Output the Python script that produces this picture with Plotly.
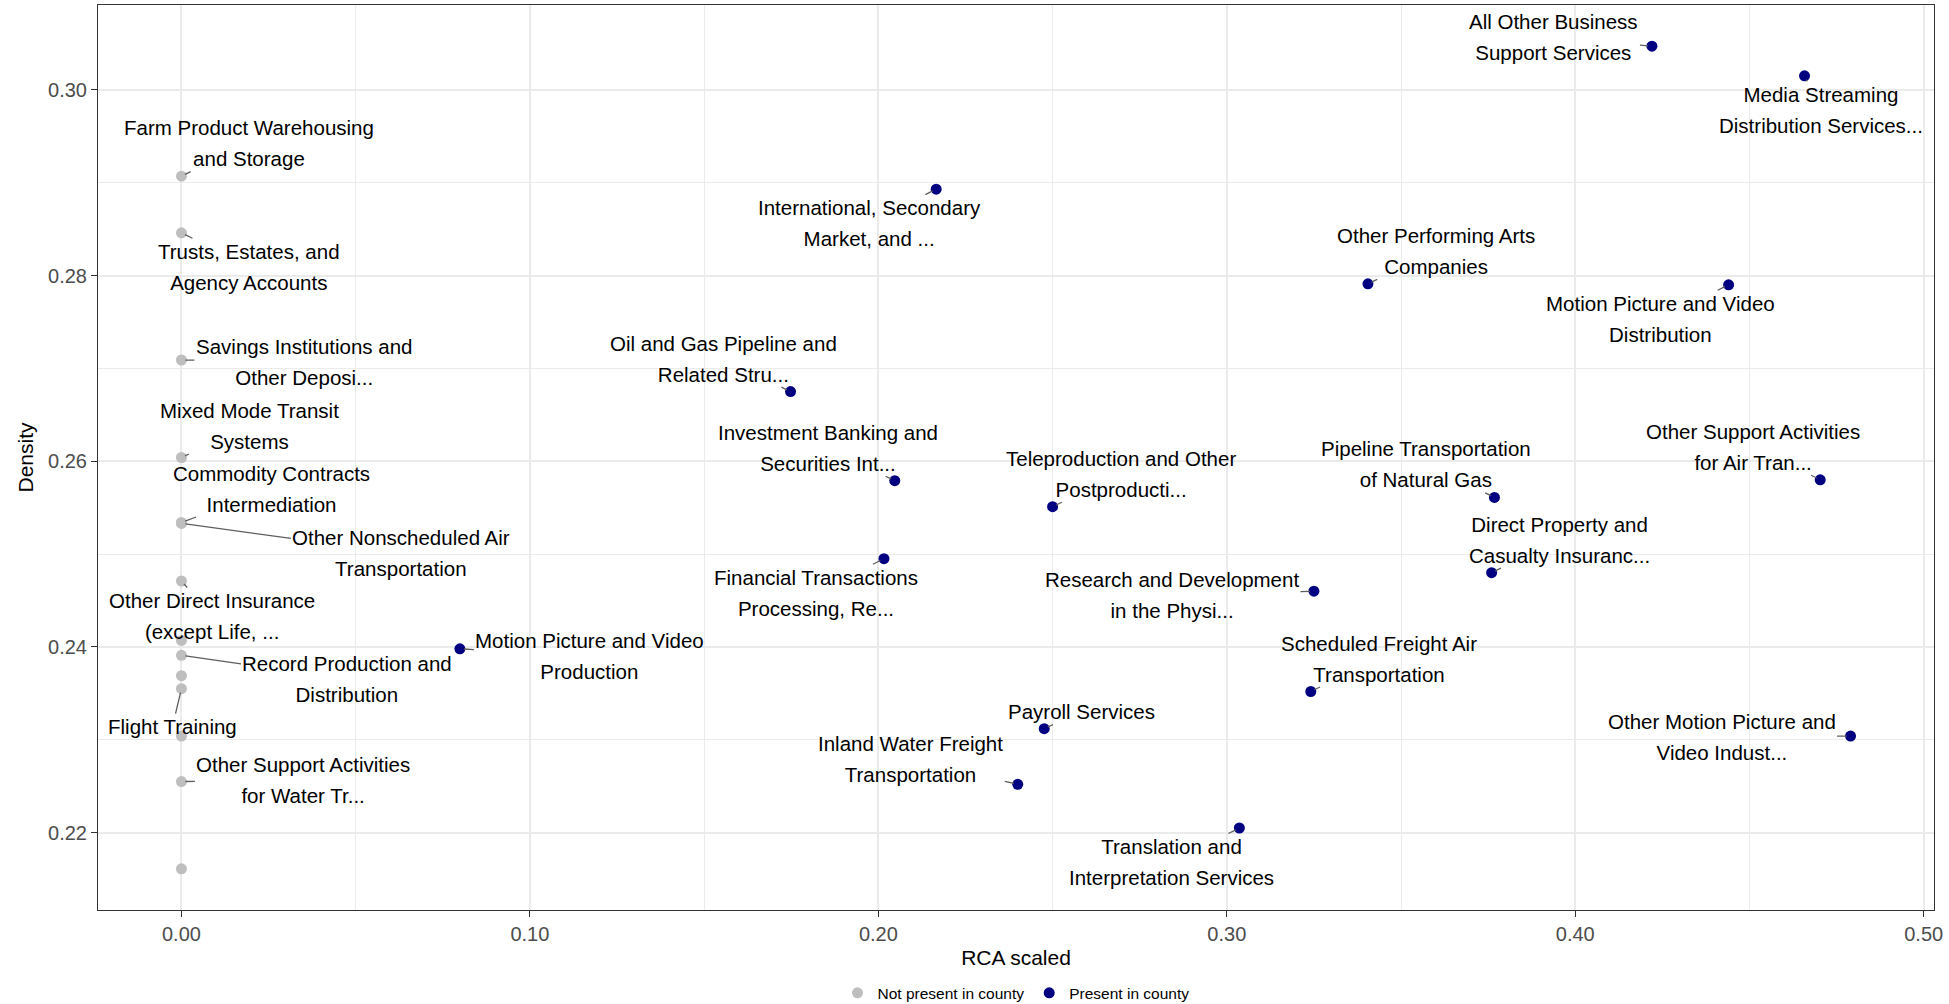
import plotly.graph_objects as go

# industries not present in the county (all at RCA = 0)
absent_names = [
    "Farm Product Warehousing\nand Storage",
    "Trusts, Estates, and\nAgency Accounts",
    "Savings Institutions and\nOther Deposi...",
    "Mixed Mode Transit\nSystems",
    "Commodity Contracts\nIntermediation",
    "Other Nonscheduled Air\nTransportation",
    "Other Direct Insurance\n(except Life, ...",
    "",
    "Record Production and\nDistribution",
    "",
    "Flight Training",
    "",
    "Other Support Activities\nfor Water Tr...",
    "",
]
absent_rca = [0.0] * 14
absent_density = [0.2907, 0.2846, 0.2709, 0.2604, 0.2534, 0.2533, 0.2471,
                  0.2407, 0.2391, 0.2369, 0.2355, 0.2304, 0.2255, 0.2161]

# industries present in the county
present_names = [
    "International, Secondary\nMarket, and ...",
    "Oil and Gas Pipeline and\nRelated Stru...",
    "Investment Banking and\nSecurities Int...",
    "Teleproduction and Other\nPostproducti...",
    "Financial Transactions\nProcessing, Re...",
    "Payroll Services",
    "Inland Water Freight\nTransportation",
    "Research and Development\nin the Physi...",
    "Scheduled Freight Air\nTransportation",
    "Translation and\nInterpretation Services",
    "Other Performing Arts\nCompanies",
    "Motion Picture and Video\nDistribution",
    "Pipeline Transportation\nof Natural Gas",
    "Direct Property and\nCasualty Insuranc...",
    "All Other Business\nSupport Services",
    "Media Streaming\nDistribution Services...",
    "Other Support Activities\nfor Air Tran...",
    "Other Motion Picture and\nVideo Indust...",
    "Motion Picture and Video\nProduction",
]
present_rca = [0.2166, 0.1748, 0.2047, 0.2500, 0.2016, 0.2476, 0.2400, 0.3250,
               0.3241, 0.3036, 0.3405, 0.4440, 0.3768, 0.3760, 0.4220, 0.4658,
               0.4703, 0.4790, 0.0799]
present_density = [0.2893, 0.2675, 0.2579, 0.2551, 0.2495, 0.2312, 0.2252, 0.2460,
                   0.2352, 0.2205, 0.2791, 0.2790, 0.2561, 0.2480, 0.3047, 0.3015,
                   0.2580, 0.2304, 0.2398]

# label placement (pixel offsets of the label centre from its point, like ggrepel)
absent_offsets = [(68, -33), (68, 34), (123, 2), (68, -32), (90, -34), (220, 30),
                  (31, 35), None, (166, 24), None, (-9, 38), None, (122, -2), None]
present_offsets = [(-67, 34), (-67, -33), (-67, -33), (68, -33), (-68, 34), (37, -17),
                   (-107, -25), (-142, 4), (68, -33), (-68, 34), (68, -33), (-68, 34),
                   (-68, -33), (68, -33), (-98, -9), (16, 34), (-67, -33), (-129, 1),
                   (130, 7)]

FONT = "Liberation Sans, Arial, sans-serif"
GREY = "#BEBEBE"
NAVY = "#000080"
LABEL_SIZE = 20.5
LINE_GAP_SIZE = 23.6  # outer font size only sets the spacing between label lines

fig = go.Figure()
fig.add_trace(go.Scatter(x=absent_rca, y=absent_density, mode="markers",
                         name="Not present in county",
                         marker=dict(color=GREY, size=11)))
fig.add_trace(go.Scatter(x=present_rca, y=present_density, mode="markers",
                         name="Present in county",
                         marker=dict(color=NAVY, size=11)))


def add_labels(names, xs, ys, offsets):
    for name, x, y, off in zip(names, xs, ys, offsets):
        if not name:
            continue
        lines = ["<span style='font-size:%spx'>%s</span>" % (LABEL_SIZE, s)
                 for s in name.split("\n")]
        fig.add_annotation(x=x, y=y, text="<br>".join(lines),
                           showarrow=True, ax=off[0], ay=off[1],
                           arrowhead=0, arrowwidth=1.3, arrowcolor="#5E5E5E",
                           standoff=4,
                           font=dict(family=FONT, size=LINE_GAP_SIZE, color="black"))


add_labels(absent_names, absent_rca, absent_density, absent_offsets)
add_labels(present_names, present_rca, present_density, present_offsets)

# ggplot-style 5% expansion of the data range
all_x = absent_rca + present_rca
all_y = absent_density + present_density
xpad = (max(all_x) - min(all_x)) * 0.05
ypad = (max(all_y) - min(all_y)) * 0.05

axis_style = dict(
    showline=True, linecolor="#333333", linewidth=1, mirror=True,
    ticks="outside", ticklen=6, tickwidth=1, tickcolor="#333333",
    tickfont=dict(family=FONT, size=20, color="#4D4D4D"),
    showgrid=True, gridcolor="#EBEBEB", gridwidth=1.6, zeroline=False,
    tickformat=".2f", automargin=False,
)

fig.update_layout(
    width=1949, height=1004,
    margin=dict(l=98, r=15, t=5, b=94, autoexpand=False),
    plot_bgcolor="white", paper_bgcolor="white",
    font=dict(family=FONT, color="black"),
    showlegend=True,
    legend=dict(orientation="h", x=0.5, xanchor="center", y=-0.092, yanchor="middle",
                itemwidth=30,
                font=dict(family=FONT, size=15.5, color="black")),
)
fig.update_xaxes(axis_style, range=[min(all_x) - xpad, max(all_x) + xpad],
                 tick0=0, dtick=0.1,
                 minor=dict(dtick=0.05, showgrid=True, gridcolor="#EBEBEB", gridwidth=0.8),
                 title=dict(text="RCA scaled", font=dict(family=FONT, size=21), standoff=6))
fig.update_yaxes(axis_style, range=[min(all_y) - ypad, max(all_y) + ypad],
                 tick0=0, dtick=0.02,
                 minor=dict(dtick=0.01, showgrid=True, gridcolor="#EBEBEB", gridwidth=0.8),
                 title=dict(text="Density", font=dict(family=FONT, size=21), standoff=8))

# drop the default page margin so the figure fills the window exactly
fig.write_html("out.html", config={"displayModeBar": False},
               post_script="document.body.style.margin='0';")
